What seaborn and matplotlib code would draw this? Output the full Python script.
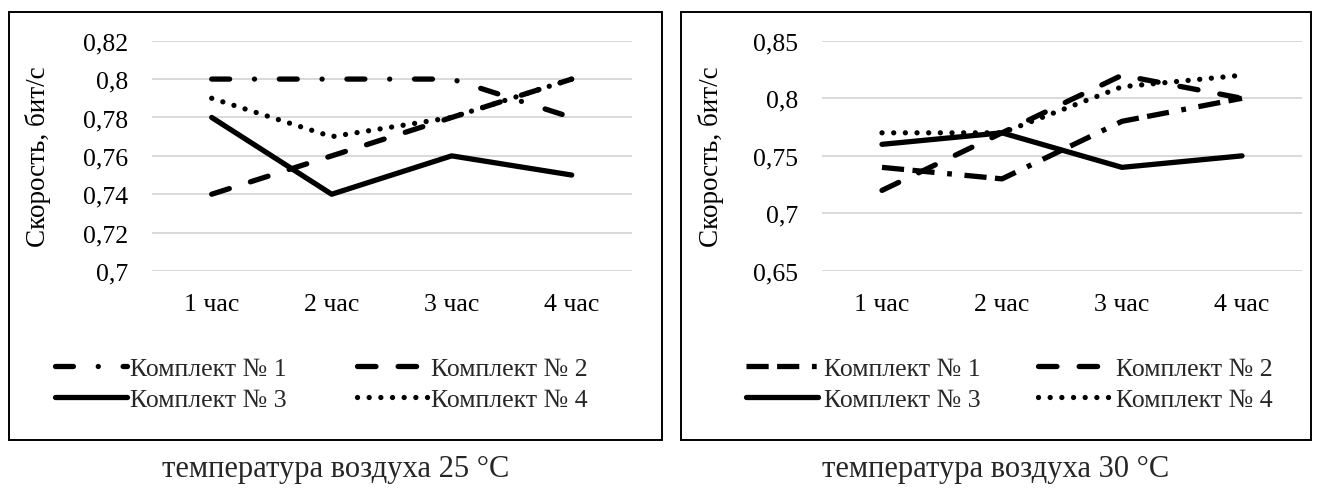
import matplotlib
matplotlib.use('Agg')
import matplotlib.pyplot as plt
import pandas as pd
import seaborn as sns
from matplotlib.patches import Rectangle

# Data
hours = ['1 час', '2 час', '3 час', '4 час']
series = ['Комплект № 1', 'Комплект № 2', 'Комплект № 3', 'Комплект № 4']

t25_k1 = [0.80, 0.80, 0.80, 0.78]
t25_k2 = [0.74, 0.76, 0.78, 0.80]
t25_k3 = [0.78, 0.74, 0.76, 0.75]
t25_k4 = [0.79, 0.77, 0.78, 0.80]

t30_k1 = [0.74, 0.73, 0.78, 0.80]
t30_k2 = [0.72, 0.77, 0.82, 0.80]
t30_k3 = [0.76, 0.77, 0.74, 0.75]
t30_k4 = [0.77, 0.77, 0.81, 0.82]

yticks_25 = [0.70, 0.72, 0.74, 0.76, 0.78, 0.80, 0.82]
yticks_30 = [0.65, 0.70, 0.75, 0.80, 0.85]
ytlabels_25 = ['0,7', '0,72', '0,74', '0,76', '0,78', '0,8', '0,82']
ytlabels_30 = ['0,65', '0,7', '0,75', '0,8', '0,85']

captions = ['температура воздуха 25 °С', 'температура воздуха 30 °С']

sns.set_theme(style='white')
plt.rcParams['font.family'] = ['Liberation Serif', 'DejaVu Serif']

FS = 18.5
LW = 3.8
dashes_25 = {series[0]: (3.4, 4.7, 0.01, 4.7), series[1]: (3.5, 4.2), series[2]: '', series[3]: (0.01, 2.2)}
dashes_30 = {series[0]: (4.2, 1.6, 4.2, 2.4, 0.9, 2.4), series[1]: (3.5, 4.2), series[2]: '', series[3]: (0.01, 2.2)}
caps_25 = ['round', 'round', 'butt', 'round']
caps_30 = ['butt', 'round', 'butt', 'round']


def make_df(k1, k2, k3, k4):
    rows = []
    for name, vals in zip(series, [k1, k2, k3, k4]):
        for h, v in zip(hours, vals):
            rows.append({'hour': h, 'value': v, 'set': name})
    return pd.DataFrame(rows)


W, H = 1317, 502
fig = plt.figure(figsize=(W / 100, H / 100), dpi=100)

# (data, yticks, labels, dashes, caps, axes left px, box left px, box right px,
#  legend left px, handletextpad, columnspacing, ylabel x px)
panels = [
    (make_df(t25_k1, t25_k2, t25_k3, t25_k4), yticks_25, ytlabels_25, dashes_25, caps_25,
     151.7, 9.3, 662, 55, 0.1, 2.75, 51),
    (make_df(t30_k1, t30_k2, t30_k3, t30_k4), yticks_30, ytlabels_30, dashes_30, caps_30,
     822, 680.7, 1311, 746, 0.22, 2.25, 724),
]

top_px, bot_px = 41.7, 272
for i, (df, yt, ytl, dsh, caps, x0, bx0, bx1, lx, htp, csp, ylx) in enumerate(panels):
    ax = fig.add_axes([x0 / W, 1 - bot_px / H, 480 / W, (bot_px - top_px) / H])
    sns.lineplot(data=df, x='hour', y='value', style='set', dashes=dsh,
                 color='black', linewidth=LW, ax=ax, legend=True)
    handles, labels = ax.get_legend_handles_labels()
    ax.get_legend().remove()
    for ln, cap in zip(ax.lines[:4], caps):
        ln.set_dash_capstyle(cap)
        ln.set_solid_capstyle('round')
    for h, cap in zip(handles, caps):
        h.set_dash_capstyle(cap)
        h.set_linewidth(LW)
        h.set_color('black')
    ax.set_xlim(-0.5, 3.5)
    ax.set_ylim(yt[0], yt[-1])
    ax.set_yticks(yt)
    ax.set_yticklabels(ytl)
    ax.yaxis.grid(True, color='#d9d9d9', linewidth=1.4)
    ax.set_axisbelow(True)
    for s in ax.spines.values():
        s.set_visible(False)
    ax.tick_params(axis='both', length=0, labelsize=FS, colors='black')
    ax.tick_params(axis='y', pad=17)
    ax.tick_params(axis='x', pad=16)
    ax.set_xlabel('')
    ax.set_ylabel('Скорость, бит/с', fontsize=FS + 1, color='black')
    ax.yaxis.set_label_coords((ylx - x0) / 480, 0.5)

    # row-major order like the reference: 1, 2 / 3, 4
    order = [0, 2, 1, 3]
    fig.legend([handles[j] for j in order], [labels[j] for j in order],
               ncol=2, loc='center left', frameon=False, fontsize=FS,
               bbox_to_anchor=(lx / W, 1 - 385 / H), borderpad=0, borderaxespad=0,
               handlelength=2.8, handletextpad=htp, columnspacing=csp,
               labelspacing=0.3)

    fig.add_artist(Rectangle((bx0 / W, 1 - 440.7 / H), (bx1 - bx0) / W, (440.7 - 12.7) / H,
                             transform=fig.transFigure, fill=False,
                             edgecolor='black', linewidth=1.4))
    fig.text((bx0 + bx1) / 2 / W, 1 - 470 / H, captions[i], ha='center', va='center',
             fontsize=22)

fig.savefig('out.png', dpi=100)
